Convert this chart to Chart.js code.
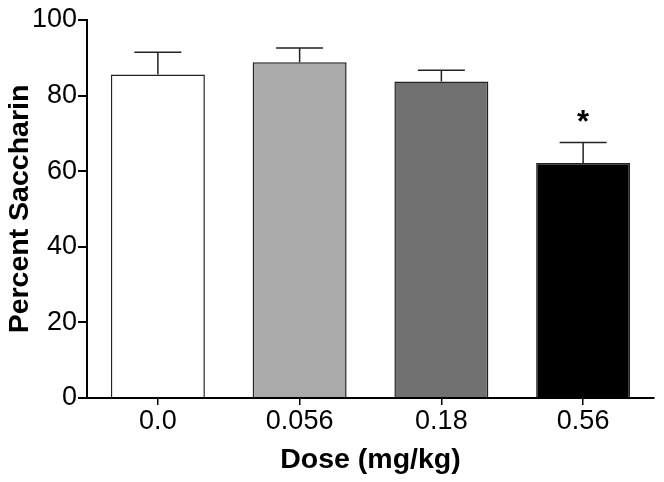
<!DOCTYPE html>
<html>
<head>
  <meta charset="utf-8">
  <title>Percent Saccharin by Dose</title>
  <style>
    * { margin: 0; padding: 0; }
    body { background: #fff; }
    #wrap { width: 664px; height: 482px; }
  </style>
  <script src="https://cdn.jsdelivr.net/npm/chart.js"></script>
</head>
<body>
  <div id="wrap">
    <canvas id="chart" width="664" height="482"></canvas>
  </div>
  <script>
    // values
    const doses = ['0.0', '0.056', '0.18', '0.56'];
    const meanPct = [85.6, 88.8, 83.7, 62.2];
    const semPct = [5.9, 3.8, 3.0, 5.4];
    const marks = ['', '', '', '*'];
    const barFill = ['#ffffff', '#aaaaaa', '#717171', '#000000'];
    const yTicks = [0, 20, 40, 60, 80, 100];

    const FONT = "'Liberation Sans', Arial, Helvetica, sans-serif";

    // upper error bars + significance star
    const errorBars = {
      id: 'errorBars',
      afterDatasetsDraw(chart) {
        const ctx = chart.ctx;
        const meta = chart.getDatasetMeta(0);
        const y = chart.scales.y;
        ctx.save();
        ctx.strokeStyle = '#222';
        ctx.lineWidth = 1.5;
        meta.data.forEach((bar, i) => {
          const top = y.getPixelForValue(meanPct[i]);
          const hi = y.getPixelForValue(meanPct[i] + semPct[i]);
          const half = bar.width / 4;
          ctx.beginPath();
          ctx.moveTo(bar.x, top);
          ctx.lineTo(bar.x, hi);
          ctx.moveTo(bar.x - half, hi);
          ctx.lineTo(bar.x + half, hi);
          ctx.stroke();
          if (marks[i]) {
            ctx.fillStyle = '#000';
            ctx.font = 'bold 31px ' + FONT;
            ctx.textAlign = 'center';
            ctx.textBaseline = 'alphabetic';
            ctx.fillText(marks[i], bar.x, hi - 10);
          }
        });
        ctx.restore();
      }
    };

    new Chart(document.getElementById('chart'), {
      type: 'bar',
      data: {
        labels: doses,
        datasets: [{
          data: meanPct,
          backgroundColor: barFill,
          borderColor: '#222',
          borderWidth: 1.5,
          barPercentage: 0.663,
          categoryPercentage: 1.0
        }]
      },
      options: {
        responsive: false,
        animation: false,
        layout: { padding: { top: 20, right: 10, bottom: 0, left: 0 } },
        plugins: {
          legend: { display: false },
          tooltip: { enabled: false }
        },
        scales: {
          x: {
            offset: true,
            grid: {
              display: true,
              drawOnChartArea: false,
              offset: false,
              tickLength: 7,
              color: '#000',
              lineWidth: 1.5
            },
            border: { display: true, color: '#000', width: 2 },
            ticks: {
              color: '#000',
              padding: 0,
              font: { family: FONT, size: 27 }
            },
            title: {
              display: true,
              text: 'Dose (mg/kg)',
              color: '#000',
              padding: { top: 0, bottom: 5 },
              font: { family: FONT, size: 28.5, weight: 'bold' }
            },
            afterFit(s) { s.height = 84; }
          },
          y: {
            min: 0,
            max: 100,
            afterBuildTicks(s) { s.ticks = yTicks.map(v => ({ value: v })); },
            grid: {
              display: true,
              drawOnChartArea: false,
              tickLength: 9,
              color: '#000',
              lineWidth: 2
            },
            border: { display: true, color: '#000', width: 2 },
            ticks: {
              color: '#000',
              padding: 1,
              font: { family: FONT, size: 27 }
            },
            title: {
              display: true,
              text: 'Percent Saccharin',
              color: '#000',
              padding: { top: 3, bottom: 0 },
              font: { family: FONT, size: 28.5, weight: 'bold' }
            },
            afterFit(s) { s.width = 87; }
          }
        }
      },
      plugins: [errorBars]
    });
  </script>
</body>
</html>
